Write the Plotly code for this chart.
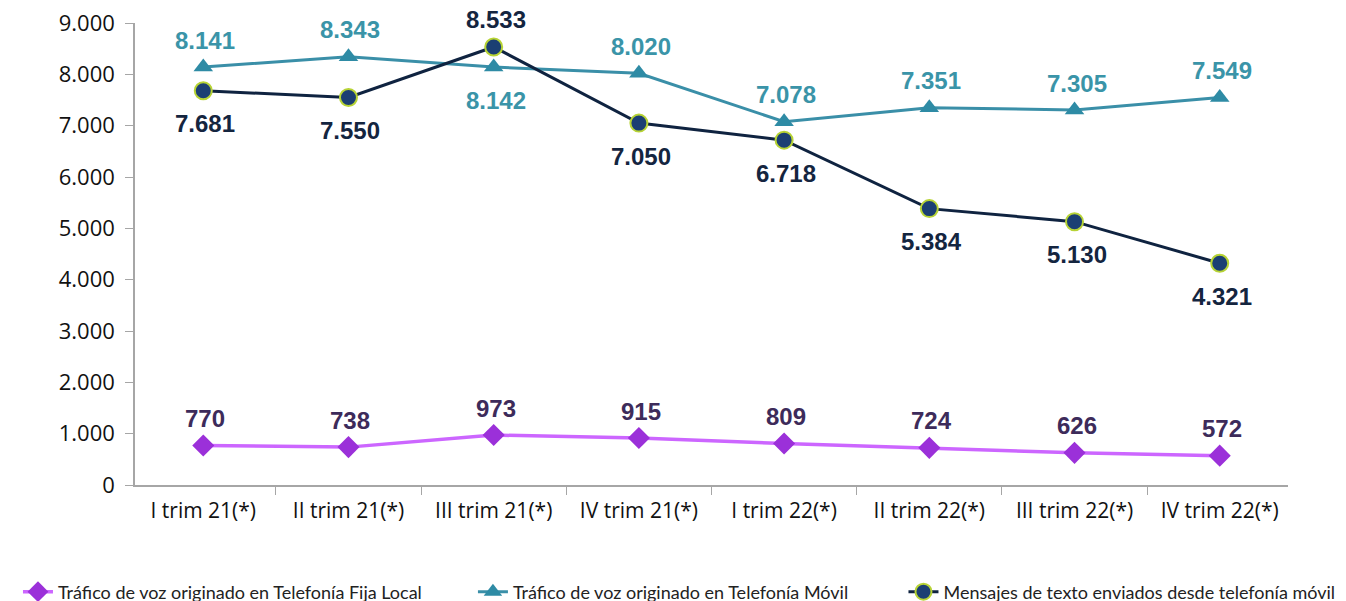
import plotly.graph_objects as go

categories = ["I trim 21(*)", "II trim 21(*)", "III trim 21(*)", "IV trim 21(*)",
              "I trim 22(*)", "II trim 22(*)", "III trim 22(*)", "IV trim 22(*)"]
fija = [770, 738, 973, 915, 809, 724, 626, 572]
movil = [8141, 8343, 8142, 8020, 7078, 7351, 7305, 7549]
sms = [7681, 7550, 8533, 7050, 6718, 5384, 5130, 4321]

# label side: +1 above, -1 below
fija_side = [1, 1, 1, 1, 1, 1, 1, 1]
movil_side = [1, 1, -1, 1, 1, 1, 1, 1]
sms_side = [-1, -1, 1, -1, -1, -1, -1, -1]

names = ["Tráfico de voz originado en Telefonía Fija Local",
         "Tráfico de voz originado en Telefonía Móvil",
         "Mensajes de texto enviados desde telefonía móvil"]

def fmt(v):
    return f"{v:,}".replace(",", ".")

fig = go.Figure()
fig.add_trace(go.Scatter(
    x=categories, y=fija, name=names[0], mode="lines+markers", legend="legend",
    line=dict(color="#CC66FF", width=3.5),
    marker=dict(symbol="diamond", size=17, color="#9B30D9"),
))
fig.add_trace(go.Scatter(
    x=categories, y=movil, name=names[1], mode="lines+markers", legend="legend2",
    line=dict(color="#3A8FA8", width=3),
    marker=dict(symbol="triangle-up", size=17, color="#2E8BA5"),
))
fig.add_trace(go.Scatter(
    x=categories, y=sms, name=names[2], mode="lines+markers", legend="legend3",
    line=dict(color="#0F2340", width=3),
    marker=dict(symbol="circle", size=17, color="#1B3F73",
                line=dict(color="#B7D335", width=2)),
))

for vals, sides, col in [(fija, fija_side, "#3D2B5A"),
                         (movil, movil_side, "#3A94A8"),
                         (sms, sms_side, "#14253F")]:
    for c, v, s in zip(categories, vals, sides):
        fig.add_annotation(
            x=c, y=v, text="<b>" + fmt(v) + "</b>", showarrow=False,
            yshift=27 if s > 0 else -33, xshift=2,
            font=dict(family="Liberation Sans, Arial", size=24, color=col),
        )

leg_font = dict(family="Lato, Open Sans", size=18, color="#222222")
leg_common = dict(orientation="h", xanchor="left", y=-0.2316, yanchor="middle",
                  font=leg_font, itemwidth=30, bgcolor="rgba(0,0,0,0)")

fig.update_layout(
    width=1346, height=601,
    margin=dict(l=127, r=66, t=15, b=124, autoexpand=False),
    plot_bgcolor="white", paper_bgcolor="white",
    showlegend=True,
    legend=dict(x=-0.1015, **leg_common),
    legend2=dict(x=0.2931, **leg_common),
    legend3=dict(x=0.6665, **leg_common),
    font=dict(family="Open Sans, Lato", color="#111111"),
    separators=",.",
)
fig.update_xaxes(
    showline=True, linecolor="#A6A6A6", linewidth=1.5,
    ticks="outside", tickson="boundaries", ticklen=8, tickcolor="#A6A6A6",
    tickfont=dict(size=21, family="Open Sans", color="#111111"),
    ticklabelstandoff=6,
    showgrid=False, zeroline=False,
)
fig.update_yaxes(
    range=[0, 9000], dtick=1000, tickformat=",d",
    showline=True, linecolor="#A6A6A6", linewidth=1.5,
    ticks="outside", ticklen=8, tickcolor="#A6A6A6",
    tickfont=dict(size=22, family="Open Sans", color="#111111"),
    ticklabelstandoff=6, ticklabeloverflow="allow",
    showgrid=False, zeroline=False,
)

fig.write_html("out.html")
